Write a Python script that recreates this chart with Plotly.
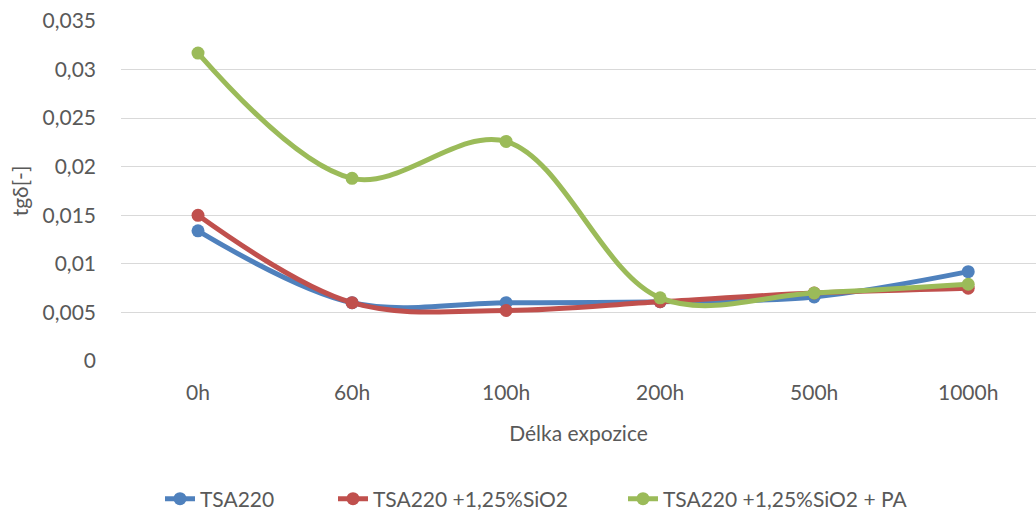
import plotly.graph_objects as go

categories = ["0h", "60h", "100h", "200h", "500h", "1000h"]
tsa220 = [0.0134, 0.0060, 0.0060, 0.0061, 0.0066, 0.0092]
tsa220_sio2 = [0.0150, 0.0060, 0.0052, 0.0061, 0.0070, 0.0075]
tsa220_sio2_pa = [0.0317, 0.0188, 0.0226, 0.0065, 0.0070, 0.0079]
series_names = ["TSA220", "TSA220 +1,25%SiO2", "TSA220 +1,25%SiO2 + PA"]
colors = ["#4f81bd", "#c0504d", "#9bbb59"]
y_tickvals = [0, 0.005, 0.01, 0.015, 0.02, 0.025, 0.03, 0.035]
y_ticktext = ["0", "0,005", "0,01", "0,015", "0,02", "0,025", "0,03", "0,035"]

font_family = "Lato"
grey = "#595959"
FS = 21

PLOT_L, PLOT_R, PLOT_T, PLOT_B = 121, 1036, 21, 361
legend_px = [160, 333, 623]  # left edge (pixels) of each legend block
legend_ids = ["legend", "legend2", "legend3"]

fig = go.Figure()
for name, vals, col, lid in zip(series_names, [tsa220, tsa220_sio2, tsa220_sio2_pa], colors, legend_ids):
    fig.add_trace(go.Scatter(
        x=categories, y=vals, name=name, mode="lines+markers",
        line=dict(color=col, width=5, shape="spline", smoothing=1),
        marker=dict(color=col, size=13),
        legend=lid,
    ))

legend_common = dict(orientation="h", y=(PLOT_B - 499) / (PLOT_B - PLOT_T), yanchor="middle",
                     xanchor="left", font=dict(size=FS, color=grey, family=font_family),
                     bgcolor="rgba(0,0,0,0)", borderwidth=0)
layout_legends = {}
for lid, px in zip(legend_ids, legend_px):
    layout_legends[lid] = dict(legend_common, x=(px - PLOT_L) / (PLOT_R - PLOT_L))

fig.update_layout(
    width=1036, height=510,
    margin=dict(l=PLOT_L, r=0, t=PLOT_T, b=510 - PLOT_B, autoexpand=False),
    plot_bgcolor="white", paper_bgcolor="white",
    font=dict(family=font_family, size=FS, color=grey),
    separators=", ",
    showlegend=True,
    xaxis=dict(
        type="category", range=[-0.5, 5.44], showgrid=False, zeroline=False,
        showline=False, ticks="", tickfont=dict(size=FS, color=grey),
        ticklabelstandoff=17,
        title=dict(text="Délka expozice", font=dict(size=FS, color=grey), standoff=23),
    ),
    yaxis=dict(
        range=[0, 0.035], tickvals=y_tickvals, ticktext=y_ticktext,
        showgrid=True, gridcolor="#d9d9d9", gridwidth=1.3, zeroline=False,
        showline=False, ticks="", tickfont=dict(size=FS, color=grey),
        ticklabelstandoff=24,
        title=dict(text="tgδ[-]", font=dict(size=FS, color=grey), standoff=8),
    ),
    **layout_legends,
)

fig.write_html("out.html")
